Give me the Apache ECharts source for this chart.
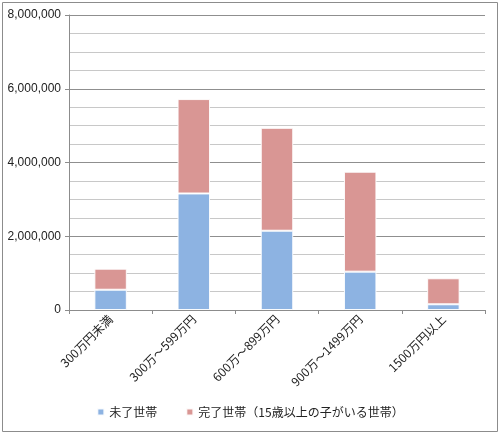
<!DOCTYPE html>
<html>
<head>
<meta charset="utf-8">
<script src="https://cdn.jsdelivr.net/npm/echarts@6/dist/echarts.min.js"></script>
<style>
  html, body { margin: 0; padding: 0; background: #fff; }
  #main { width: 500px; height: 434px; }
</style>
</head>
<body>
<div id="main"></div>
<script>
var categories = ["300万円未満", "300万～599万円", "600万～899万円", "900万～1499万円", "1500万円以上"];
var seriesNames = ["未了世帯", "完了世帯（15歳以上の子がいる世帯）"];
var mikanryo = [550000, 3160000, 2150000, 1040000, 155000];
var kanryo = [570000, 2560000, 2790000, 2710000, 705000];

var myChart = echarts.init(document.getElementById("main"));

var font = "'Noto Sans CJK JP', 'Liberation Sans', sans-serif";

var option = {
  animation: false,
  textStyle: { fontFamily: font },
  graphic: [
    {
      type: "rect",
      shape: { x: 2.5, y: 2.5, width: 495, height: 429 },
      style: { fill: "none", stroke: "#8c8c8c", lineWidth: 1 },
      silent: true
    }
  ],
  legend: {
    bottom: 11,
    left: "center",
    itemWidth: 7,
    itemHeight: 7,
    itemGap: 28,
    icon: "rect",
    textStyle: { fontSize: 12, color: "#222", fontFamily: font },
    data: seriesNames
  },
  grid: {
    left: 69,
    right: 15,
    top: 15,
    bottom: 124
  },
  xAxis: {
    type: "category",
    data: categories,
    axisLine: { lineStyle: { color: "#8c8c8c" } },
    axisTick: { show: true, alignWithLabel: false, length: 4, lineStyle: { color: "#8c8c8c" } },
    axisLabel: {
      rotate: 45,
      interval: 0,
      color: "#222",
      fontSize: 12,
      margin: 7,
      fontFamily: font
    }
  },
  yAxis: {
    type: "value",
    min: 0,
    max: 8000000,
    interval: 2000000,
    axisLine: { show: true, lineStyle: { color: "#8c8c8c" } },
    axisTick: { show: true, length: 4, lineStyle: { color: "#8c8c8c" } },
    axisLabel: {
      color: "#222",
      fontSize: 12,
      margin: 8,
      fontFamily: "'Liberation Sans', Arial, sans-serif",
      formatter: function (v) {
        return v.toString().replace(/\B(?=(\d{3})+(?!\d))/g, ",");
      }
    },
    splitLine: { show: true, lineStyle: { color: "#8f8f8f", width: 1 } },
    minorTick: { show: false, splitNumber: 4 },
    minorSplitLine: { show: true, lineStyle: { color: "#c8c8c8", width: 1 } }
  },
  series: [
    {
      name: seriesNames[0],
      type: "bar",
      stack: "total",
      barWidth: "39%",
      data: mikanryo,
      itemStyle: { color: "#8db3e2", borderColor: "rgba(255,255,255,0.9)", borderWidth: 1 }
    },
    {
      name: seriesNames[1],
      type: "bar",
      stack: "total",
      barWidth: "39%",
      data: kanryo,
      itemStyle: { color: "#d99694", borderColor: "rgba(255,255,255,0.9)", borderWidth: 1 }
    }
  ]
};

myChart.setOption(option);
</script>
</body>
</html>
